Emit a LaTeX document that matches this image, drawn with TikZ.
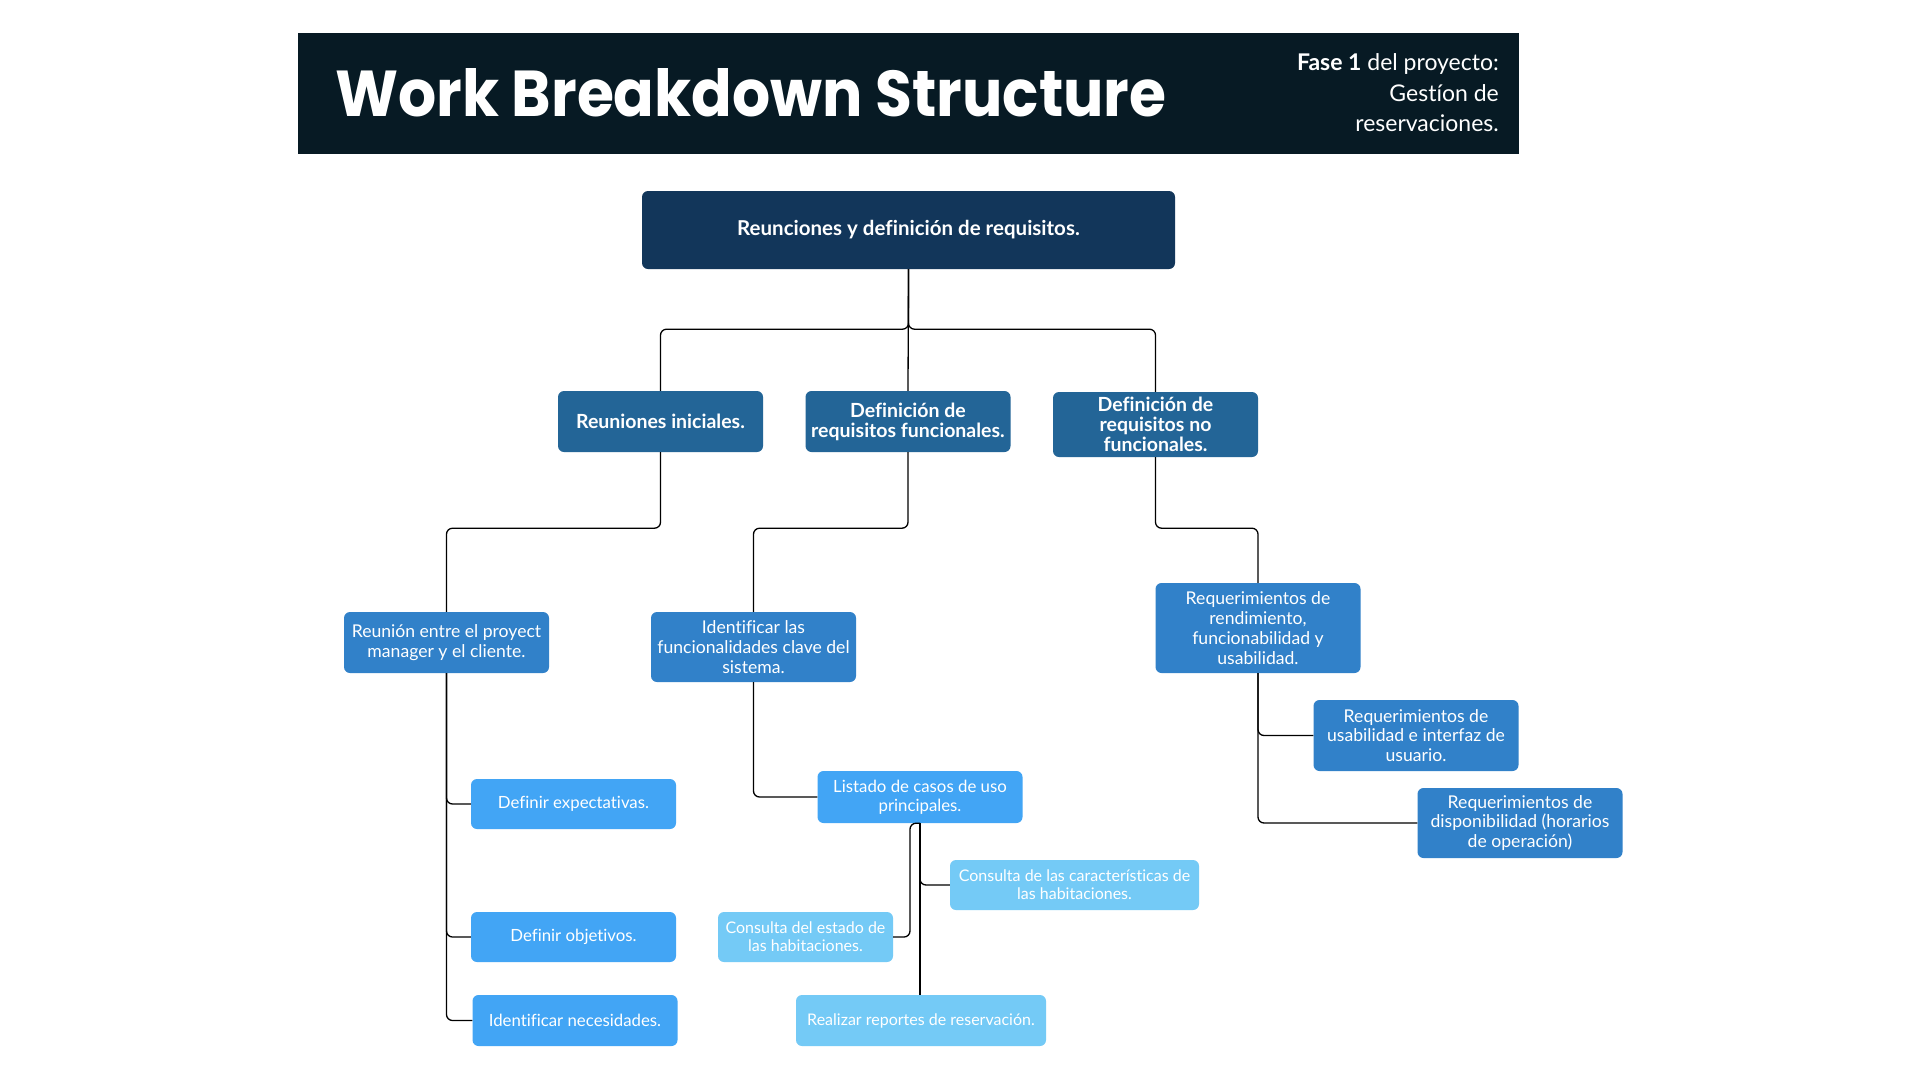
\documentclass[tikz,border=0pt]{standalone}
\usepackage{fontspec}
\usepackage{graphicx}
\setmainfont{Lato}[Ligatures=NoCommon]
\newfontfamily\titlefont{Poppins}
\definecolor{hdr}{HTML}{071A24}
\definecolor{cA}{HTML}{12365A}
\definecolor{cB}{HTML}{236597}
\definecolor{cC}{HTML}{3181C9}
\definecolor{cD}{HTML}{42A5F5}
\definecolor{cE}{HTML}{74CAF6}
\tikzset{
  conn/.style={draw=black, line width=1.3pt, rounded corners=6pt},
  box/.style={rounded corners=6pt, inner sep=0pt, align=center, text=white},
  lvlzero/.style={box, fill=cA, minimum width=533pt, minimum height=78pt, font=\bfseries\fontsize{20.5}{24}\selectfont},
  lvlone/.style={box, fill=cB, minimum width=205pt, font=\bfseries\fontsize{19.5}{20}\selectfont},
  lvltwo/.style={box, fill=cC, minimum width=205pt, font=\fontsize{17.6}{19.8}\selectfont},
  lvlthree/.style={box, fill=cD, minimum width=205pt, font=\fontsize{16.8}{19}\selectfont},
  lvlfour/.style={box, fill=cE, font=\fontsize{16}{18}\selectfont},
  hdrtxt/.style={anchor=base east, inner sep=0pt, text=white, font=\fontsize{23}{26}\selectfont}
}
\begin{document}
\begin{tikzpicture}[x=1pt, y=-1pt]
\useasboundingbox (0,0) rectangle (1920,1080);
\fill[white] (0,0) rectangle (1920,1080);
% header
\fill[hdr] (298,33) rectangle (1519,154);
\node[anchor=base west, inner sep=0pt, text=white] (title) at (335,116)
  {\resizebox{831pt}{48pt}{\titlefont\bfseries Work Breakdown Structure}};
\node[hdrtxt] (h1) at (1499,70) {\textbf{Fase 1} del proyecto:};
\node[hdrtxt] (h2) at (1499,101) {Gestíon de};
\node[hdrtxt] (h3) at (1499,131) {reservaciones.};
% nodes
\node[lvlzero] (root) at (908.5,230) {Reunciones y definición de requisitos.};
\node[lvlone, minimum height=61pt] (A) at (660.5,421.5) {Reuniones iniciales.};
\node[lvlone, minimum height=61pt] (B) at (908,421.5) {Definición de\\requisitos funcionales.};
\node[lvlone, minimum height=65pt] (C) at (1155.5,424.5) {Definición de\\requisitos no\\funcionales.};
\node[lvltwo, minimum height=61pt] (D) at (446.5,642.5) {Reunión entre el proyect\\manager y el cliente.};
\node[lvltwo, minimum height=70pt] (E) at (753.5,647) {Identificar las\\funcionalidades clave del\\sistema.};
\node[lvltwo, minimum height=90pt] (F) at (1258,628) {Requerimientos de\\rendimiento,\\funcionabilidad y\\usabilidad.};
\node[lvlthree, minimum height=50pt] (G) at (573.5,804) {Definir expectativas.};
\node[lvlthree, minimum height=50pt] (H) at (573.5,937) {Definir objetivos.};
\node[lvlthree, minimum height=51pt] (I) at (575,1020.5) {Identificar necesidades.};
\node[lvlthree, minimum height=52pt] (J) at (920,797) {Listado de casos de uso\\principales.};
\node[lvltwo, minimum height=71pt] (N) at (1416,735.5) {Requerimientos de\\usabilidad e interfaz de\\usuario.};
\node[lvltwo, minimum height=70pt] (O) at (1520,823) {Requerimientos de\\disponibilidad (horarios\\de operación)};
\node[lvlfour, minimum width=249pt, minimum height=50pt] (K) at (1074.5,885) {Consulta de las características de\\las habitaciones.};
\node[lvlfour, minimum width=175pt, minimum height=50pt] (L) at (805.5,937) {Consulta del estado de\\las habitaciones.};
\node[lvlfour, minimum width=250pt, minimum height=51pt] (M) at (921,1020.5) {Realizar reportes de reservación.};
% connectors
\draw[conn] (root.south) -- ++(0,60) -| (A.north);
\draw[conn] (root.south) -- (B.north);
\draw[conn] (root.south) -- ++(0,60) -| (C.north);
\draw[conn] (A.south) -- ++(0,76) -| (D.north);
\draw[conn] (B.south) -- ++(0,76) -| (E.north);
\draw[conn] (C.south) -- ++(0,71) -| (F.north);
\draw[conn] (D.south) |- (G.west);
\draw[conn] (D.south) |- (H.west);
\draw[conn] (D.south) |- (I.west);
\draw[conn] (E.south) |- (J.west);
\draw[conn] (F.south) |- (N.west);
\draw[conn] (F.south) |- (O.west);
\draw[conn] (J.south) |- (K.west);
\draw[conn] (J.south) -- (J.south |- M.north);
\draw[conn] (J.south) -- ++(-10,0) |- (L.east);
\end{tikzpicture}
\end{document}
